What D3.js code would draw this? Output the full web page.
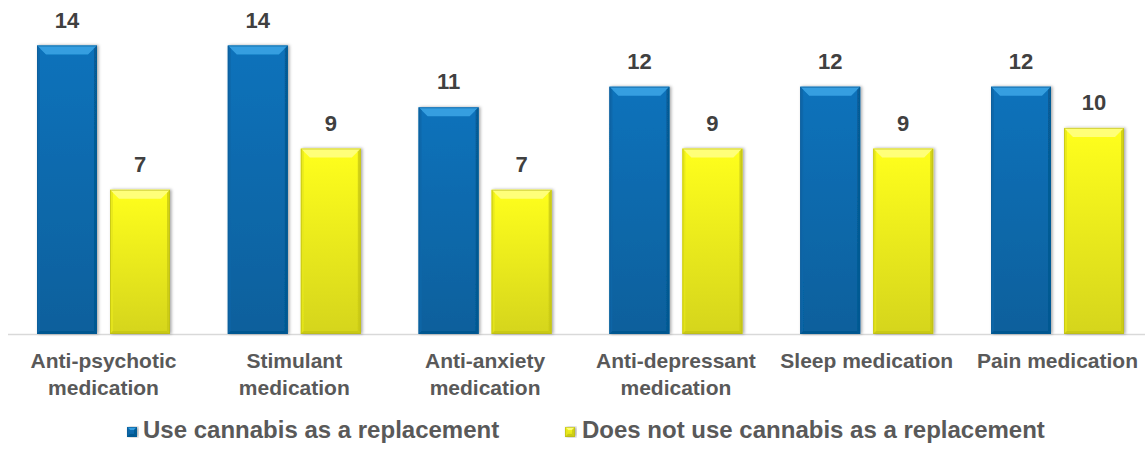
<!DOCTYPE html>
<html>
<head>
<meta charset="utf-8">
<script src="https://cdn.jsdelivr.net/npm/d3@7"></script>
<style>
  html, body { margin: 0; padding: 0; background: #fff; }
  svg { display: block; font-family: Arial, "Liberation Sans", sans-serif; }
</style>
</head>
<body>
<svg id="chart" width="1145" height="449"></svg>
<script>
const categories = [
  ["Anti-psychotic", "medication"],
  ["Stimulant", "medication"],
  ["Anti-anxiety", "medication"],
  ["Anti-depressant", "medication"],
  ["Sleep medication"],
  ["Pain medication"]
];
const seriesNames = ["Use cannabis as a replacement", "Does not use cannabis as a replacement"];
const useValues = [14, 14, 11, 12, 12, 12];
const notUseValues = [7, 9, 7, 9, 9, 10];

const svg = d3.select("#chart");
const left = 8, step = 190.8, baseY = 334;
const right = left + step * categories.length;

const x0 = d3.scaleBand().domain(d3.range(categories.length)).range([left, right]);
// two bars per category, 60px wide with a 13px gap, starting 29px into the band
const x1 = d3.scaleBand().domain([0, 1]).range([29, 162]).paddingInner(13 / 73);
const y = d3.scaleLinear().domain([0, 14]).range([baseY, 45.5]);

const defs = svg.append("defs");
function grad(id, stops) {
  const g = defs.append("linearGradient").attr("id", id).attr("x1", 0).attr("y1", 0).attr("x2", 0).attr("y2", 1);
  stops.forEach(([o, c]) => g.append("stop").attr("offset", o).attr("stop-color", c));
}
grad("gBlue", [[0, "#0a72bb"], [1, "#07609c"]]);
grad("gYellow", [[0, "#ffff1e"], [1, "#d5d51b"]]);
const f = defs.append("filter").attr("id", "shadow").attr("x", "-10%").attr("y", "-10%").attr("width", "130%").attr("height", "120%");
f.append("feDropShadow").attr("dx", 1.5).attr("dy", 0).attr("stdDeviation", 1.5).attr("flood-color", "#000").attr("flood-opacity", 0.35);

const palette = [
  { fill: "url(#gBlue)", top: "#3ea6e6", side: "#0b66a8", bottom: "#06578e", edge: "#075a94" },
  { fill: "url(#gYellow)", top: "#ffff8a", side: "#e6e61a", bottom: "#c8c818", edge: "#b8b814" }
];

// axis baseline
svg.append("line").attr("x1", left).attr("x2", right).attr("y1", baseY + 0.5).attr("y2", baseY + 0.5)
  .attr("stroke", "#d9d9d9").attr("stroke-width", 1.5);

const rows = categories.map((c, i) => ({ i, vals: [useValues[i], notUseValues[i]] }));

// bevelled bars
function drawBar(g, bx, by, bw, bh, p, bevel) {
  const b = Math.min(bevel, bw / 2, bh / 2);
  const e = Math.min(3, b);
  const grp = g.append("g").attr("filter", "url(#shadow)");
  grp.append("rect").attr("x", bx).attr("y", by).attr("width", bw).attr("height", bh).attr("fill", p.fill);
  grp.append("path").attr("d", `M${bx},${by}L${bx + bw},${by}L${bx + bw - b},${by + b}L${bx + b},${by + b}Z`).attr("fill", p.top).attr("opacity", 0.85);
  grp.append("path").attr("d", `M${bx},${by}L${bx + e},${by + e}L${bx + e},${by + bh - e}L${bx},${by + bh}Z`).attr("fill", p.side).attr("opacity", 0.8);
  grp.append("path").attr("d", `M${bx + bw},${by}L${bx + bw - e},${by + e}L${bx + bw - e},${by + bh - e}L${bx + bw},${by + bh}Z`).attr("fill", p.bottom).attr("opacity", 0.8);
  grp.append("path").attr("d", `M${bx},${by + bh}L${bx + e},${by + bh - e}L${bx + bw - e},${by + bh - e}L${bx + bw},${by + bh}Z`).attr("fill", p.bottom).attr("opacity", 0.9);
  grp.append("rect").attr("x", bx + 0.5).attr("y", by + 0.5).attr("width", bw - 1).attr("height", bh - 1)
    .attr("fill", "none").attr("stroke", p.edge).attr("stroke-width", 1).attr("opacity", 0.6);
}

const groups = svg.selectAll("g.cat").data(rows).join("g").attr("class", "cat")
  .attr("transform", d => `translate(${x0(d.i)},0)`);

groups.each(function (d) {
  const g = d3.select(this);
  d.vals.forEach((v, s) => {
    const bx = x1(s), bw = x1.bandwidth();
    drawBar(g, bx, y(v), bw, baseY - y(v), palette[s], 9);
    g.append("text").attr("x", bx + bw / 2).attr("y", y(v) - 18)
      .attr("text-anchor", "middle").attr("font-size", 22).attr("font-weight", "bold").attr("fill", "#404040")
      .text(v);
  });
  const cx = (x1(0) + x1(1) + x1.bandwidth()) / 2;
  const t = g.append("text").attr("x", cx).attr("y", 368)
    .attr("text-anchor", "middle").attr("font-size", 21).attr("font-weight", "bold").attr("fill", "#595959");
  categories[d.i].forEach((line, k) => t.append("tspan").attr("x", cx).attr("dy", k === 0 ? 0 : 27).text(line));
});

// legend
const legendPos = [127, 565];
seriesNames.forEach((name, s) => {
  const lg = svg.append("g").attr("transform", `translate(${legendPos[s]},427)`);
  drawBar(lg, 0, 0, 10, 10, palette[s], 3);
  lg.append("text").attr("x", legendPos[s] === 127 ? 16 : 17).attr("y", 11).attr("font-size", 24).attr("font-weight", "bold").attr("fill", "#595959").text(name);
});
</script>
</body>
</html>
